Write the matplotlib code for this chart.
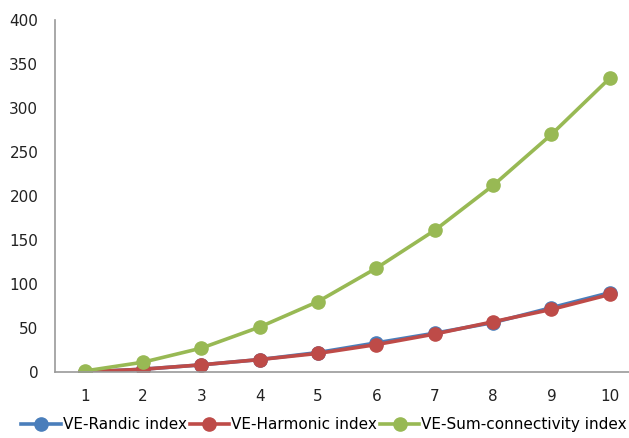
import matplotlib
matplotlib.use("Agg")
import matplotlib.pyplot as plt

x = [1, 2, 3, 4, 5, 6, 7, 8, 9, 10]
randic = [0, 3, 8, 14, 22, 33, 44, 56, 73, 90]
harmonic = [0, 3, 8, 14, 21, 31, 43, 57, 71, 88]
sum_conn = [1, 11, 27, 51, 80, 118, 161, 212, 270, 334]
labels = ["VE-Randic index", "VE-Harmonic index", "VE-Sum-connectivity index"]
yticks = [0, 50, 100, 150, 200, 250, 300, 350, 400]

fig = plt.figure(figsize=(6.29, 4.38), dpi=100)
ax = fig.add_axes([0.0874, 0.151, 0.9126, 0.803])

ax.plot(x, randic, color="#4A7EBB", lw=2.6, marker="o", ms=9.5, label=labels[0])
ax.plot(x, harmonic, color="#BE4B48", lw=2.6, marker="o", ms=9.5, label=labels[1])
ax.plot(x, sum_conn, color="#98B954", lw=2.6, marker="o", ms=9.5, label=labels[2])

ax.set_xlim(0.49, 10.33)
ax.set_ylim(0, 400)
ax.set_yticks(yticks)
ax.set_xticks(x)
ax.tick_params(length=0, labelsize=11, colors="#222222", pad=12)
ax.tick_params(axis="x", pad=12)
for s in ["top", "right"]:
    ax.spines[s].set_visible(False)
for s in ["left", "bottom"]:
    ax.spines[s].set_color("#999999")
    ax.spines[s].set_linewidth(1.2)

fig.legend(loc="lower center", bbox_to_anchor=(0.515, -0.018), ncol=3, frameon=False,
           fontsize=11, handlelength=2.6, handletextpad=0.1, columnspacing=0.2)

fig.savefig("out.png", dpi=100)
